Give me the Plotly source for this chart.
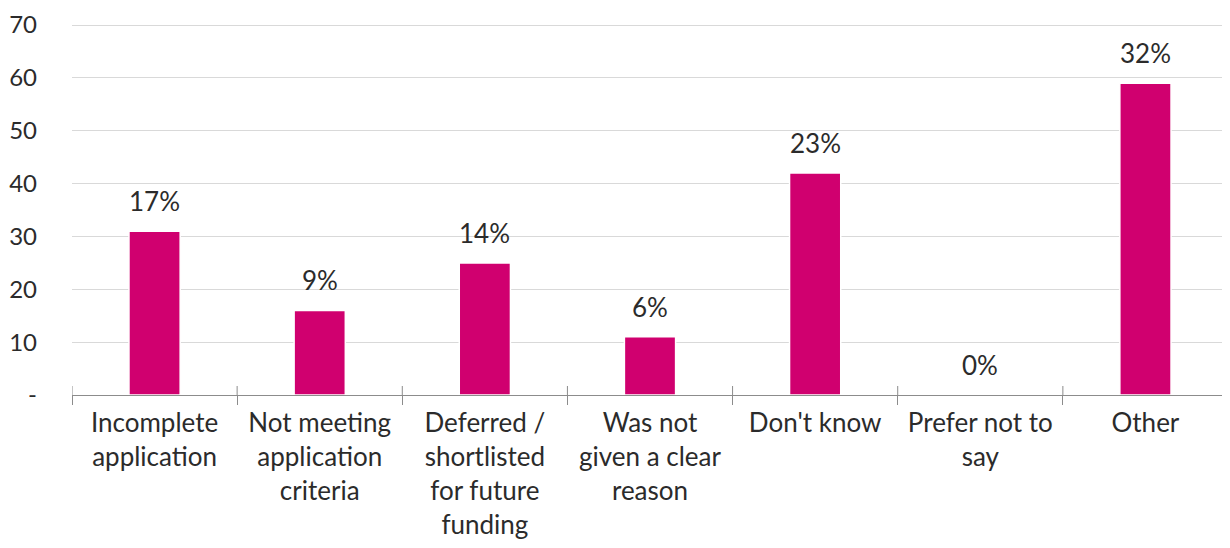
import plotly.graph_objects as go

categories = ["Incomplete<br>application", "Not meeting<br>application<br>criteria",
              "Deferred /<br>shortlisted<br>for future<br>funding", "Was not<br>given a clear<br>reason",
              "Don't know", "Prefer not to<br>say", "Other"]
values = [31, 16, 25, 11, 42, 0, 59]
pct_labels = ["17%", "9%", "14%", "6%", "23%", "0%", "32%"]
y_tickvals = [0, 10, 20, 30, 40, 50, 60, 70]
y_ticktext = ["-", "10", "20", "30", "40", "50", "60", "70"]

FONT = "Lato"
BAR = "#D0006F"
TXT = "#2b2b2b"
FS = 26

fig = go.Figure()
fig.add_trace(go.Bar(
    x=categories, y=values, marker=dict(color=BAR, line=dict(color="white", width=1.5)),
    width=0.31, hoverinfo="skip"))

for c, v, t in zip(categories, values, pct_labels):
    fig.add_annotation(x=c, y=v, text=t, showarrow=False, yanchor="bottom", yshift=12,
                       font=dict(family=FONT, size=FS, color=TXT))

# small tick marks crossing above the axis line at category boundaries
for i in range(len(categories) + 1):
    fig.add_shape(type="line", xref="x", yref="y", x0=i - 0.5, x1=i - 0.5,
                  ysizemode="pixel", yanchor=0, y0=0, y1=9,
                  line=dict(color="#8c8c8c", width=1))

fig.update_layout(
    width=1230, height=548,
    margin=dict(l=64, r=10, t=16, b=161, autoexpand=False),
    plot_bgcolor="white", paper_bgcolor="white",
    showlegend=False,
    font=dict(family=FONT, size=FS, color=TXT),
)
fig.update_xaxes(showline=True, linecolor="#8c8c8c", linewidth=1,
                 ticks="outside", tickson="boundaries", ticklen=9, tickcolor="#8c8c8c",
                 tickfont=dict(family=FONT, size=FS, color=TXT), automargin=False,
                 ticklabelstandoff=5,
                 showgrid=False, range=[-0.5, 6.5])
fig.update_yaxes(range=[0, 70.2], tickvals=y_tickvals, ticktext=y_ticktext,
                 showgrid=True, gridcolor="#d9d9d9", gridwidth=1.3, zeroline=False,
                 ticks="", ticklabelstandoff=34, automargin=False,
                 ticklabeloverflow="allow",
                 tickfont=dict(family=FONT, size=24, color=TXT))

fig.write_html("out.html")
